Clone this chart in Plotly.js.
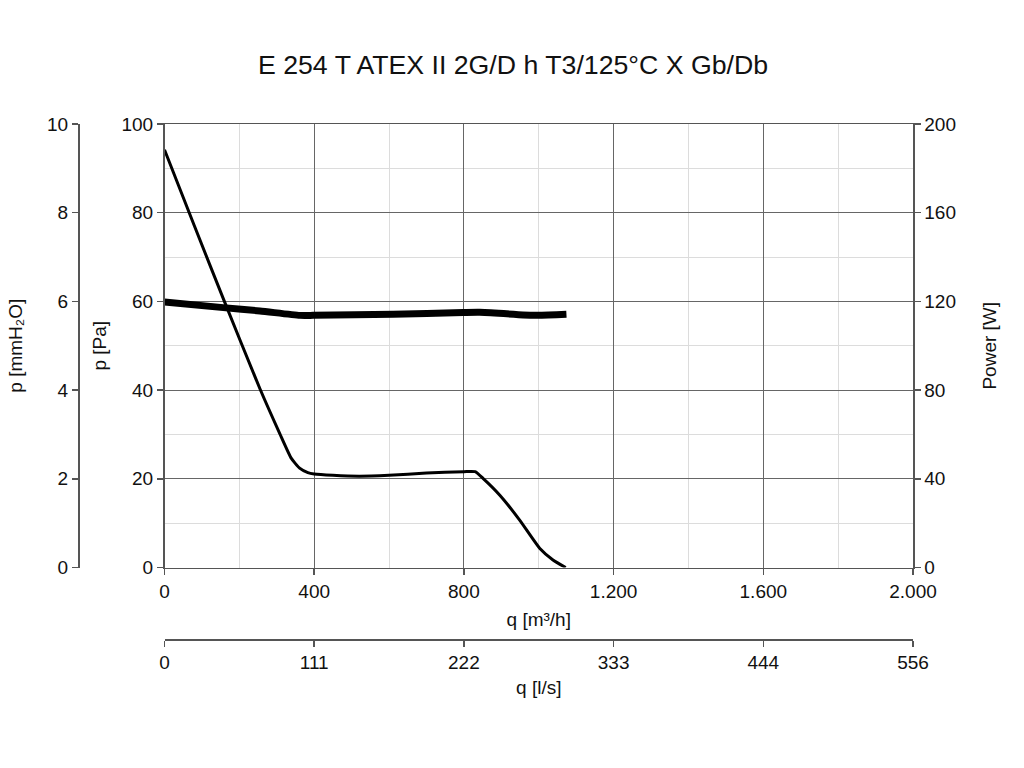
<!DOCTYPE html>
<html>
<head>
<meta charset="utf-8">
<script src="https://cdn.plot.ly/plotly-3.0.1.min.js"></script>
<style>html,body{margin:0;padding:0;background:#fff;}#chart{width:1024px;height:768px;}</style>
</head>
<body>
<div id="chart"></div>
<script>
// Pressure curve: q [m³/h] vs p [Pa]
var qPressure = [0, 80, 160, 255, 308, 339, 361, 383, 400, 450, 520, 600, 700, 800, 830, 851, 896, 949, 1003, 1038, 1072];
var pPressure = [94.2, 77, 60, 40.3, 30.2, 24.6, 22.4, 21.4, 21.1, 20.8, 20.6, 20.8, 21.3, 21.6, 21.6, 20.1, 16.3, 10.7, 4.3, 1.7, 0];
// Power curve: q [m³/h] vs Power [W]
var qPower = [0, 157, 255, 362, 397, 611, 798, 842, 994, 1074];
var wPower = [119.7, 117.2, 115.7, 113.7, 113.7, 114.2, 115, 115.1, 113.7, 114.2];
// Axis ticks
var qTicks = [0, 400, 800, 1200, 1600, 2000];
var lsTickText = ['0', '111', '222', '333', '444', '556'];
var titleText = 'E 254 T ATEX II 2G/D h T3/125°C X Gb/Db';

var FONT = 'Liberation Sans, Arial, sans-serif';
var lsTickVals = qTicks.map(function (v) { return v / 3.6; });

var traces = [
  {x: qPressure, y: pPressure, xaxis: 'x', yaxis: 'y', mode: 'lines',
   line: {color: '#000', width: 3, shape: 'spline', smoothing: 0.5}, hoverinfo: 'skip', showlegend: false},
  {x: qPower, y: wPower, xaxis: 'x', yaxis: 'y2', mode: 'lines',
   line: {color: '#000', width: 7, shape: 'spline', smoothing: 0.6}, hoverinfo: 'skip', showlegend: false},
  // same pressure data in l/s and mmH2O to carry the secondary axes (invisible)
  {x: qPressure.map(function (v) { return v / 3.6; }), y: pPressure.map(function (v) { return v / 10; }),
   xaxis: 'x2', yaxis: 'y3', mode: 'lines', line: {color: 'rgba(0,0,0,0)', width: 0}, hoverinfo: 'skip', showlegend: false}
];

var axisCommon = {
  showline: true, linecolor: '#555', linewidth: 1.5,
  ticks: 'outside', ticklen: 6, tickcolor: '#555', tickwidth: 1.5,
  zeroline: false, tickfont: {family: FONT, size: 19, color: '#111'},
  fixedrange: true
};
function ax(o) { var r = {}; for (var k in axisCommon) r[k] = axisCommon[k]; for (var k2 in o) r[k2] = o[k2]; return r; }

var xDomStart = (164.5 - 78) / 835;
var yDomStart = (639 - 567.5) / 515;

var layout = {
  width: 1024, height: 768,
  paper_bgcolor: '#fff', plot_bgcolor: '#fff',
  separators: ',.',
  margin: {l: 78, r: 111, t: 124, b: 129},
  showlegend: false,
  title: {text: titleText, font: {family: FONT, size: 26.7, color: '#111'},
          x: 513 / 1024, xref: 'container', xanchor: 'center', y: 1 - 65 / 768, yref: 'container', yanchor: 'middle'},
  xaxis: ax({domain: [xDomStart, 1], range: [0, 2000], tickvals: qTicks, separatethousands: true,
             showgrid: true, gridcolor: '#666', gridwidth: 1, mirror: true,
             minor: {dtick: 200, showgrid: true, gridcolor: '#dcdcdc', gridwidth: 1, ticks: ''},
             anchor: 'y',
             title: {text: 'q [m³/h]', font: {family: FONT, size: 19, color: '#111'}, standoff: 12}}),
  xaxis2: ax({domain: [xDomStart, 1], range: [0, 2000 / 3.6], tickvals: lsTickVals, ticktext: lsTickText,
              showgrid: false, anchor: 'free', position: 0, overlaying: 'x', side: 'bottom',
              title: {text: 'q [l/s]', font: {family: FONT, size: 19, color: '#111'}, standoff: 8}}),
  yaxis: ax({domain: [yDomStart, 1], range: [0, 100], dtick: 20, anchor: 'x',
             showgrid: true, gridcolor: '#666', gridwidth: 1,
             minor: {dtick: 10, showgrid: true, gridcolor: '#dcdcdc', gridwidth: 1, ticks: ''},
             title: {text: 'p [Pa]', font: {family: FONT, size: 19, color: '#111'}, standoff: 10}}),
  yaxis2: ax({domain: [yDomStart, 1], range: [0, 200], dtick: 40, anchor: 'x', overlaying: 'y', side: 'right',
              showgrid: false,
              title: {text: 'Power [W]', font: {family: FONT, size: 19, color: '#111'}, standoff: 27}}),
  yaxis3: ax({domain: [yDomStart, 1], range: [0, 10], dtick: 2, anchor: 'free', position: 0, overlaying: 'y', side: 'left',
              showgrid: false,
              title: {text: 'p [mmH₂O]', font: {family: FONT, size: 19, color: '#111'}, standoff: 18}})
};

Plotly.newPlot('chart', traces, layout, {staticPlot: true, displayModeBar: false});
</script>
</body>
</html>
